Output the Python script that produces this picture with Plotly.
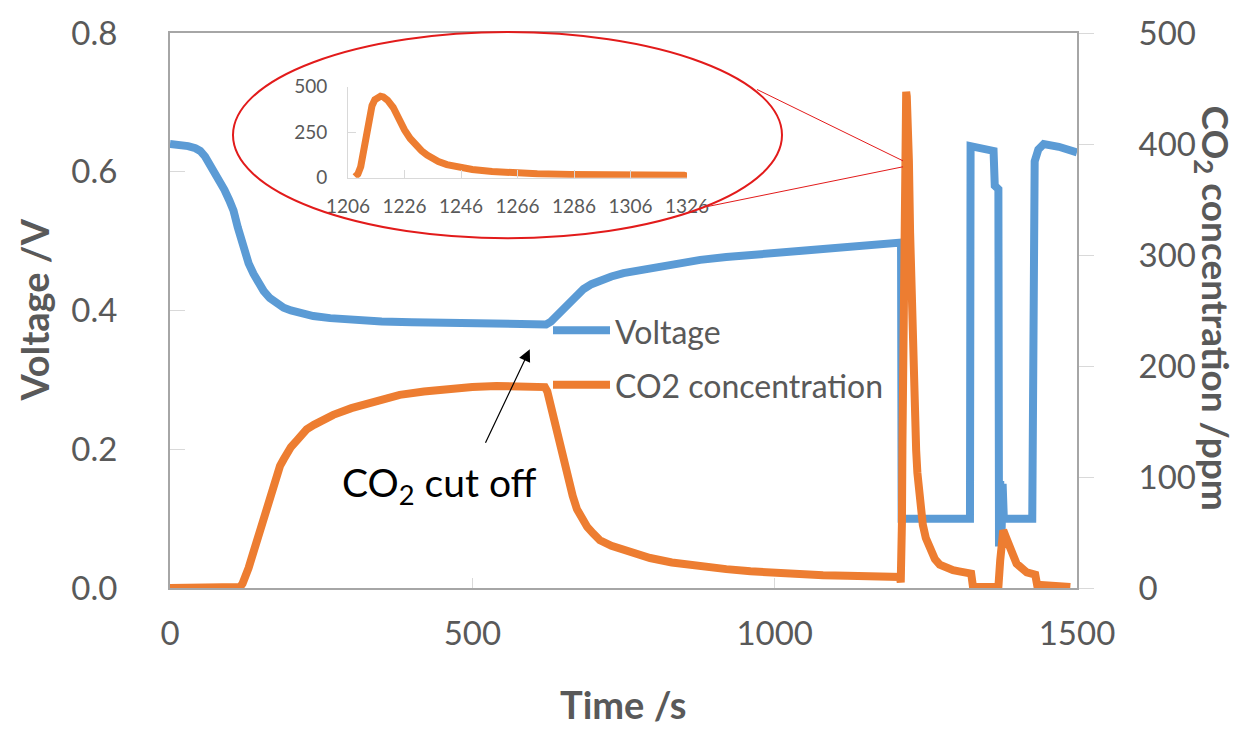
import plotly.graph_objects as go

# Cell voltage over time (s, V)
volt_time = [0, 15, 30, 42, 50, 58, 66, 74, 82, 90, 98, 105, 112, 118, 124, 130, 138,
             146, 155, 165, 175, 188, 200, 215, 237, 265, 298, 350, 400, 500, 560, 615,
             622, 630, 638, 645, 653, 662, 672, 684, 697, 711, 730, 750, 775, 800, 840,
             877, 920, 960, 1000, 1042, 1080, 1120, 1160, 1207, 1209, 1210, 1323, 1324,
             1362, 1364, 1369, 1370, 1371, 1373, 1375, 1377, 1379, 1426, 1427, 1430,
             1436, 1445, 1470, 1500]
voltage = [0.640, 0.639, 0.637, 0.634, 0.630, 0.622, 0.611, 0.600, 0.588, 0.574, 0.559,
           0.544, 0.520, 0.500, 0.482, 0.468, 0.453, 0.440, 0.428, 0.418, 0.411, 0.404,
           0.400, 0.396, 0.392, 0.389, 0.386, 0.384, 0.383, 0.381, 0.380, 0.379, 0.380,
           0.384, 0.391, 0.398, 0.406, 0.414, 0.422, 0.431, 0.438, 0.444, 0.449, 0.454,
           0.458, 0.462, 0.468, 0.473, 0.477, 0.480, 0.483, 0.486, 0.489, 0.492, 0.495,
           0.498, 0.498, 0.100, 0.100, 0.637, 0.630, 0.580, 0.575, 0.575, 0.060, 0.154,
           0.070, 0.150, 0.100, 0.100, 0.580, 0.615, 0.632, 0.640, 0.636, 0.628]

# CO2 concentration over time (s, ppm)
co2_time = [0, 112, 116, 120, 125, 130, 135, 140, 145, 150, 157, 164, 171, 177, 182,
            188, 193, 200, 210, 218, 226, 238, 250, 270, 300, 325, 350, 380, 420, 463,
            500, 540, 615, 620, 624, 628, 632, 637, 645, 652, 660, 666, 673, 681, 690,
            700, 711, 730, 750, 770, 794, 830, 877, 920, 960, 1000, 1042, 1080, 1120,
            1207, 1208.5, 1209.5, 1210.5, 1211.3, 1212, 1212.7, 1213.5, 1214.5, 1215.5,
            1216.5, 1217.5, 1218.5, 1220, 1222, 1224, 1226, 1228, 1230, 1232, 1234, 1236,
            1238, 1241, 1245, 1250, 1257, 1265, 1273, 1285, 1295, 1305, 1318, 1325, 1328,
            1370, 1373, 1378, 1383, 1389, 1400, 1417, 1431, 1434, 1489]
co2 = [0, 0, 1, 4, 10, 18, 27, 36, 45, 55, 69, 83, 95, 104, 110, 116, 121, 127, 133,
       139, 143, 147, 151, 156, 162, 166, 170, 174, 177, 180, 181, 182, 182, 181, 177,
       168, 157, 146, 126, 110, 95, 83, 71, 62, 55, 49, 43, 38, 34, 30, 27, 23, 19, 17,
       15, 13.5, 12.5, 11.5, 11, 10, 5, 20, 60, 130, 200, 270, 340, 395, 428, 443, 447,
       443, 425, 385, 320, 262, 215, 178, 148, 124, 104, 89, 72, 57, 45, 34, 26, 21, 18,
       16, 15, 14, 13, 1, 1, 25, 52, 45, 37, 22, 14, 12, 3, 1]

# Zoomed window of the CO2 release peak
zoom_range = [1206, 1326]
zoom_ticks = [1206, 1226, 1246, 1266, 1286, 1306, 1326]

x_ticks = [0, 500, 1000, 1500]
v_ticks = [0.0, 0.2, 0.4, 0.6, 0.8]
c_ticks = [0, 100, 200, 300, 400, 500]
zoom_c_ticks = [0, 250, 500]

BLUE = "#5b9bd5"
ORANGE = "#ed7d31"
GREY_TXT = "#595959"
AXIS_LINE = "#a6a6a6"
TICK = "#d9d9d9"
RED = "#e21b1b"
FONT = "Lato"

zoom_pts = [(t, c) for t, c in zip(co2_time, co2)
            if zoom_range[0] + 2 <= t <= zoom_range[1] + 2]
zoom_t = [p[0] for p in zoom_pts]
zoom_c = [p[1] for p in zoom_pts]

fig = go.Figure()
fig.add_trace(go.Scatter(x=volt_time, y=voltage, mode="lines", name="Voltage",
                         line=dict(color=BLUE, width=8), xaxis="x", yaxis="y"))
fig.add_trace(go.Scatter(x=co2_time, y=co2, mode="lines", name="CO2 concentration",
                         line=dict(color=ORANGE, width=8), xaxis="x", yaxis="y2"))
fig.add_trace(go.Scatter(x=zoom_t, y=zoom_c, mode="lines", name="CO2 (zoom)",
                         line=dict(color=ORANGE, width=7), xaxis="x3", yaxis="y3"))

L, R, T, B = 170, 165, 28, 141
W, H = 1242, 729
PW, PH = W - L - R, H - T - B


def px(xp):
    return (xp - L) / PW


def py(yp):
    return (T + PH - yp) / PH


fig.update_layout(
    width=W, height=H,
    margin=dict(l=L, r=R, t=T, b=B),
    paper_bgcolor="white", plot_bgcolor="white",
    showlegend=False,
    font=dict(family=FONT, color=GREY_TXT),
    xaxis=dict(range=[0, 1500], tickvals=x_ticks, ticks="inside", ticklen=10,
               tickcolor=TICK, tickwidth=1, showgrid=False, zeroline=False,
               showline=True, mirror=True, linecolor=AXIS_LINE, linewidth=2,
               tickfont=dict(size=33, color=GREY_TXT), ticklabelstandoff=15),
    yaxis=dict(range=[0, 0.8], tickvals=v_ticks, tickformat=".1f", ticks="inside",
               ticklen=15, tickcolor=TICK, showgrid=False, zeroline=False,
               showline=True, linecolor=AXIS_LINE, linewidth=2,
               tickfont=dict(size=33, color=GREY_TXT), ticklabelstandoff=44),
    yaxis2=dict(range=[0, 500], tickvals=c_ticks, overlaying="y", side="right",
                ticks="outside", ticklen=15, tickcolor=TICK, showgrid=False,
                zeroline=False, showline=True, linecolor=AXIS_LINE, linewidth=2,
                tickfont=dict(size=33, color=GREY_TXT), ticklabelstandoff=38),
    xaxis3=dict(domain=[px(348), px(687)], anchor="y3", range=zoom_range,
                tickvals=zoom_ticks, ticks="inside", ticklen=8, tickcolor=TICK,
                showgrid=False, zeroline=False, showline=True, linecolor=TICK,
                linewidth=1, tickfont=dict(size=19, color=GREY_TXT),
                ticklabelstandoff=12),
    yaxis3=dict(domain=[py(174), py(82)], anchor="x3", range=[0, 500],
                tickvals=zoom_c_ticks, ticks="inside", ticklen=8, tickcolor=TICK,
                showgrid=False, zeroline=False, showline=True, linecolor=TICK,
                linewidth=1, tickfont=dict(size=19, color=GREY_TXT),
                ticklabelstandoff=16),
)

shapes = [
    # ellipse around the zoomed view
    dict(type="circle", xref="paper", yref="paper", x0=px(233), x1=px(782),
         y0=py(235), y1=py(27), line=dict(color=RED, width=2)),
    # connectors pointing at the release peak
    dict(type="line", xref="paper", yref="paper", x0=px(757), y0=py(85),
         x1=px(903), y1=py(157), line=dict(color=RED, width=1)),
    dict(type="line", xref="paper", yref="paper", x0=px(708), y0=py(203),
         x1=px(903), y1=py(163), line=dict(color=RED, width=1)),
    # legend line samples
    dict(type="line", xref="paper", yref="paper", x0=px(553), x1=px(610),
         y0=py(328), y1=py(328), line=dict(color=BLUE, width=8)),
    dict(type="line", xref="paper", yref="paper", x0=px(553), x1=px(610),
         y0=py(383), y1=py(383), line=dict(color=ORANGE, width=8)),
]
fig.update_layout(shapes=shapes)

annotations = [
    dict(text="<b>Voltage /V</b>", xref="paper", yref="paper", x=px(33), y=py(308),
         xanchor="center", yanchor="middle", textangle=-90, showarrow=False,
         font=dict(size=38, color=GREY_TXT)),
    dict(text="<b>CO<sub>2</sub> concentration /ppm</b>", xref="paper", yref="paper",
         x=px(1213), y=py(305), xanchor="center", yanchor="middle", textangle=90,
         showarrow=False, font=dict(size=37, color=GREY_TXT)),
    dict(text="<b>Time /s</b>", xref="paper", yref="paper", x=0.5, y=py(705),
         xanchor="center", yanchor="middle", showarrow=False,
         font=dict(size=38, color=GREY_TXT)),
    dict(text="Voltage", xref="paper", yref="paper", x=px(613), y=py(329),
         xanchor="left", yanchor="middle", showarrow=False,
         font=dict(size=32, color=GREY_TXT)),
    dict(text="CO2 concentration", xref="paper", yref="paper", x=px(613), y=py(384),
         xanchor="left", yanchor="middle", showarrow=False,
         font=dict(size=32, color=GREY_TXT)),
    dict(text="CO<sub>2</sub> cut off", xref="x", yref="y", x=446, y=0.148,
         xanchor="center", yanchor="middle", showarrow=False,
         font=dict(size=39, color="black")),
    dict(text="", xref="x", yref="y", x=595, y=0.344, ax=-45, ay=95,
         showarrow=True, arrowhead=2, arrowsize=2, arrowwidth=1.2,
         arrowcolor="black", standoff=0),
]
fig.update_layout(annotations=annotations)

fig.write_html("out.html")
